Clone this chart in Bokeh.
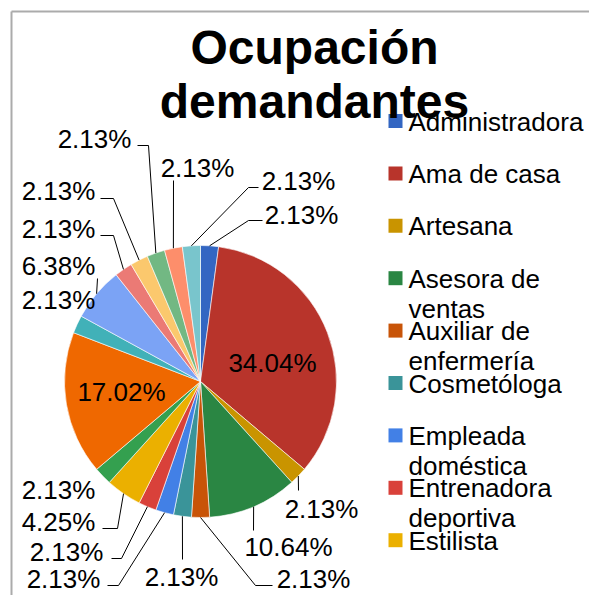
import math
import textwrap
from bokeh.plotting import figure
from bokeh.models import Range1d, ColumnDataSource
from bokeh.embed import file_html
from bokeh.resources import INLINE
from bokeh.core.properties import value

# ---------------- data ----------------
title_lines = ["Ocupación", "demandantes"]
categories = [
    "Administradora", "Ama de casa", "Artesana", "Asesora de ventas",
    "Auxiliar de enfermería", "Cosmetóloga", "Empleada doméstica",
    "Entrenadora deportiva", "Estilista", "Estudiante", "Independiente",
    "Manicurista", "Modista", "Peluquera", "Profesora", "Recepcionista",
    "Secretaria", "Vendedora",
]
percent = [2.13, 34.04, 2.13, 10.64, 2.13, 2.13, 2.13, 2.13, 4.25,
           2.13, 17.02, 2.13, 6.38, 2.13, 2.13, 2.13, 2.13, 2.13]
colors = [
    "#3366C2", "#B8342B", "#C99400", "#2A8643", "#C85408", "#3A9499",
    "#4280E6", "#D9413A", "#EBB000", "#34A04F", "#EF6800", "#41B1B8",
    "#7BA3F5", "#EB7A75", "#FBC86D", "#72B883", "#FD8E6B", "#79C5CC",
]
legend_shown = 9  # the legend is clipped after this many entries

# ---------------- layout (picture pixel coordinates) ----------------
CX, CY, R = 200, 381, 136
FONT = value("Liberation Sans")
# label centre and leader bend points per slice (None = no leader)
label_layout = [
    ((301, 214), [(248, 220), (262, 220)]),
    ((272, 362), None),
    ((321, 508), [(298, 490)]),
    ((288, 546), [(253, 530)]),
    ((313, 578), [(255, 585), (272, 585)]),
    ((181, 576), [(182, 559)]),
    ((63, 578), [(118, 585), (107, 585)]),
    ((66, 551), [(121, 558), (111, 558)]),
    ((58, 521), [(117, 528), (102, 528)]),
    ((58, 489), None),
    ((121, 391), None),
    ((58, 299), None),
    ((58, 265), [(97, 278)]),
    ((58, 228), [(113, 235), (100, 235)]),
    ((58, 190), [(113, 198), (100, 198)]),
    ((94, 138), [(148, 145), (137, 145)]),
    ((197, 167), [(173, 180)]),
    ((298, 180), [(248, 187), (258, 187)]),
]

W, H = 589, 595
p = figure(width=W, height=H, x_range=Range1d(0, W), y_range=Range1d(-H, 0),
           output_backend="svg", toolbar_location=None, min_border=0,
           x_axis_location=None, y_axis_location=None)
p.grid.visible = False
p.outline_line_color = None
p.background_fill_color = "white"
p.border_fill_color = "white"

# chart area border
p.segment(x0=[11, 11], y0=[-11, -11], x1=[11, W], y1=[-H, -11],
          line_color="#ABABAB", line_width=2)

# ---------------- pie ----------------
total = sum(percent)
starts, ends, mids = [], [], []
cum = 0.0
for v in percent:
    a0 = cum / total
    cum += v
    a1 = cum / total
    starts.append(math.pi / 2 - a1 * 2 * math.pi)
    ends.append(math.pi / 2 - a0 * 2 * math.pi)
    mids.append(math.pi / 2 - (a0 + a1) / 2 * 2 * math.pi)

src = ColumnDataSource(dict(start=starts, end=ends, color=colors, cat=categories))
p.wedge(x=CX, y=-CY, radius=R, start_angle="start", end_angle="end",
        fill_color="color", line_color="white", line_width=0.6, source=src)

# leader lines and labels
lxs, lys = [], []
tx, ty, tt = [], [], []
for i, v in enumerate(percent):
    (cx, cy), pts = label_layout[i]
    tx.append(cx)
    ty.append(-cy)
    tt.append("%.2f%%" % v)
    if pts:
        ex = CX + R * math.cos(mids[i])
        ey = CY - R * math.sin(mids[i])
        lxs.append([ex] + [q[0] for q in pts])
        lys.append([-ey] + [-q[1] for q in pts])
p.multi_line(xs=lxs, ys=lys, line_color="black", line_width=1)
p.text(x=tx, y=ty, text=tt, text_font=FONT, text_font_size="26px",
       text_align="center", text_baseline="middle", text_color="black")

# ---------------- legend ----------------
sq_x, sq_y, lx, ly, lt = [], [], [], [], []
for i in range(legend_shown):
    mid = 121 + 52.4 * i
    sq_x.append(395)
    sq_y.append(-(mid - 0.5))
    for j, line in enumerate(textwrap.wrap(categories[i], 14)):
        lx.append(408)
        ly.append(-(mid + 30 * j))
        lt.append(line)
p.rect(x=sq_x, y=sq_y, width=14, height=14, fill_color=colors[:legend_shown], line_color=None)
p.text(x=lx, y=ly, text=lt, text_font=FONT, text_font_size="26px",
       text_align="left", text_baseline="middle", text_color="black")

# ---------------- title ----------------
p.text(x=[314, 314], y=[-47, -101], text=title_lines, text_font=FONT, text_font_size="48px",
       text_font_style="bold", text_align="center", text_baseline="middle", text_color="black")

open("out.html", "w").write(file_html(p, INLINE))
